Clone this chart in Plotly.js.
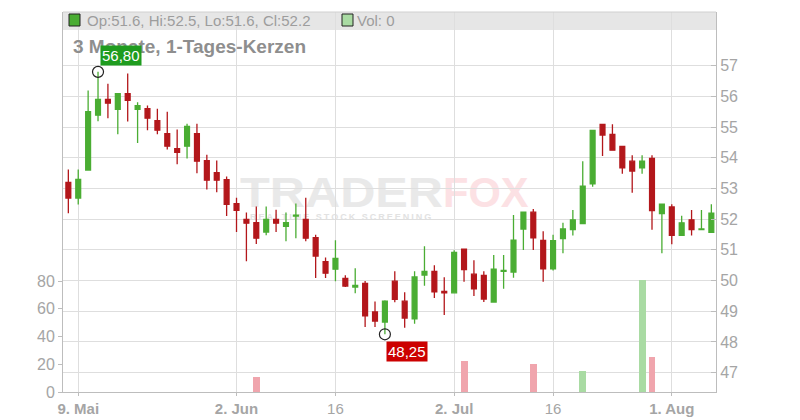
<!DOCTYPE html>
<html><head><meta charset="utf-8">
<script src="https://cdn.plot.ly/plotly-3.0.1.min.js"></script>
<style>
html,body{margin:0;padding:0;background:#fff}
#wrap{position:relative;width:800px;height:420px;overflow:hidden}
#chart{position:absolute;left:0;top:0;width:800px;height:420px}
.wm{position:absolute;font-family:"Liberation Sans",Arial,sans-serif;font-weight:bold;line-height:1;white-space:nowrap;transform-origin:0 0}
</style>
</head><body>
<div id="wrap">
  <div class="wm" style="left:240px;top:172px;font-size:42px;color:#e9e9e9;transform:scaleX(1.16)">TRADER</div>
  <div class="wm" style="left:443px;top:172px;font-size:42px;color:#fce1e4;transform:scaleX(0.99)">FOX</div>
  <div class="wm" style="left:250px;top:213px;font-size:9px;letter-spacing:2px;color:#e2e2e2">REALTIME STOCK SCREENING</div>
  <div id="chart"></div>
</div>
<script>
const dates = ["2025-05-08","2025-05-09","2025-05-12","2025-05-13","2025-05-14","2025-05-15","2025-05-16",
"2025-05-19","2025-05-20","2025-05-21","2025-05-22","2025-05-23","2025-05-26","2025-05-27","2025-05-28","2025-05-29","2025-05-30",
"2025-06-02","2025-06-03","2025-06-04","2025-06-05","2025-06-06","2025-06-09","2025-06-10","2025-06-11","2025-06-12","2025-06-13",
"2025-06-16","2025-06-17","2025-06-18","2025-06-19","2025-06-20","2025-06-23","2025-06-24","2025-06-25","2025-06-26","2025-06-27",
"2025-06-30","2025-07-01","2025-07-02","2025-07-03","2025-07-04","2025-07-07","2025-07-08","2025-07-09","2025-07-10","2025-07-11",
"2025-07-14","2025-07-15","2025-07-16","2025-07-17","2025-07-18","2025-07-21","2025-07-22","2025-07-23","2025-07-24","2025-07-25",
"2025-07-28","2025-07-29","2025-07-30","2025-07-31","2025-08-01","2025-08-04","2025-08-05","2025-08-06","2025-08-07"];

const open = [53.20,52.69,53.60,55.39,55.90,55.58,56.09,55.58,55.60,55.21,54.79,54.30,54.38,54.79,53.91,53.52,53.29,
52.51,51.99,51.89,51.58,51.99,51.77,52.10,51.99,51.40,50.62,50.37,50.07,49.79,49.91,48.98,48.65,49.98,49.33,48.75,50.18,
50.30,49.65,49.60,51.02,50.21,50.17,49.30,50.30,50.28,51.68,52.23,51.31,50.38,51.37,51.66,51.86,53.15,55.09,54.76,54.37,
53.89,53.67,53.98,52.18,52.40,51.47,51.98,51.66,51.57];
const high = [53.62,53.62,56.19,56.80,56.41,56.09,56.75,55.81,55.70,55.60,55.50,54.92,55.11,55.11,54.10,53.91,53.39,
52.70,52.22,52.41,52.41,52.31,52.22,52.51,52.70,51.49,50.75,51.31,50.17,50.40,49.99,49.32,49.36,50.30,49.62,50.30,51.12,
50.50,50.11,50.99,51.02,50.66,50.30,50.83,50.83,52.14,52.23,52.33,51.61,51.49,51.88,52.30,53.89,54.89,55.09,55.09,54.37,
54.08,54.08,54.08,52.49,52.49,52.11,52.30,52.30,52.49];
const low = [52.19,52.48,53.58,55.19,55.29,54.77,55.18,54.48,54.90,54.77,54.27,53.79,53.98,53.50,52.97,52.88,52.10,
51.58,50.63,51.19,51.48,51.58,51.28,51.38,51.28,50.08,50.08,49.98,49.79,49.59,48.49,48.49,48.25,49.29,48.46,48.59,49.83,
49.43,48.88,49.60,49.96,49.50,49.30,49.30,49.73,50.09,51.00,51.00,49.96,50.33,50.89,51.47,51.86,53.06,54.06,54.25,53.48,
52.86,53.48,51.66,50.89,51.18,51.47,51.47,51.64,51.57];
const close = [52.69,53.30,55.50,55.90,55.78,56.09,55.87,55.70,55.29,54.90,54.38,54.18,55.02,53.89,53.27,53.27,52.48,
52.29,51.87,51.38,51.99,51.87,51.89,52.13,51.38,50.80,50.24,50.72,49.82,49.84,48.85,48.68,49.33,49.39,48.78,50.12,50.30,
49.63,49.60,50.92,50.36,49.73,49.40,50.37,50.33,51.32,52.23,51.39,50.38,51.30,51.68,51.98,53.08,54.89,54.74,54.25,53.67,
53.57,53.89,52.28,52.49,51.47,51.88,51.66,51.68,52.20];
const volume = [0,0,0,0,0,0,0,0,0,0,0,0,0,0,0,0,0,0,0,10.5,0,0,0,0,0,0,0,0,0,0,0,0,0,0,0,0,0,0,0,0,
22.5,0,0,0,0,0,0,20.4,0,0,0,0,15.3,0,0,0,0,0,80.7,25.4,0,0,0,0,0,0];

const tickDates = ["2025-05-09","2025-06-02","2025-06-16","2025-07-02","2025-07-16","2025-08-01"];
const tickLabels = ["<b>9. Mai</b>","<b>2. Jun</b>","16","<b>2. Jul</b>","16","<b>1. Aug</b>"];
const priceTicks = [47,48,49,50,51,52,53,54,55,56,57];
const volTicks = [0,20,40,60,80];
const chartTitle = "3 Monate, 1-Tages-Kerzen";

const GREEN = "#4aad33", RED = "#b3171b";
const VOL_G = "#a9dba3", VOL_R = "#f0a5ad";
const GRID = "#dedede", AXIS = "#bdbdbd", TXT = "#a5a5a5";
const FONT = "Liberation Sans, Arial, sans-serif";

const n = dates.length;
const volColors = close.map((c, i) => c >= open[i] ? VOL_G : VOL_R);
let iMax = 0, iMin = 0;
for (let i = 0; i < n; i++) { if (high[i] > high[iMax]) iMax = i; if (low[i] < low[iMin]) iMin = i; }
const fmt = v => v.toFixed(2).replace('.', ',');
const L = n - 1;
const legendText = "Op:" + open[L].toFixed(1) + ", Hi:" + high[L].toFixed(1) + ", Lo:" + low[L].toFixed(1) + ", Cl:" + close[L].toFixed(1);

const plotW = 653, plotH = 380; // pixel size of plot area
const px = x => x / plotW;           // x offset (px from left edge) -> paper
const py = y => 1 - y / plotH;       // y offset (px from top edge) -> paper

const traces = [
  {
    type: "bar", x: dates, y: volume, yaxis: "y2", xaxis: "x",
    marker: {color: volColors, line: {width: 0}}, width: 0.7, hoverinfo: "skip", showlegend: false
  },
  {
    type: "candlestick", x: dates, open: open, high: high, low: low, close: close,
    increasing: {line: {color: GREEN, width: 1.3}, fillcolor: GREEN},
    decreasing: {line: {color: RED, width: 1.3}, fillcolor: RED},
    whiskerwidth: 0, showlegend: false, hoverinfo: "skip"
  },
  {
    type: "scatter", mode: "markers", x: [dates[iMax], dates[iMin]], y: [high[iMax], low[iMin]],
    marker: {symbol: "circle-open", size: 11, color: "#222", line: {width: 1.2}},
    showlegend: false, hoverinfo: "skip"
  }
];

const layout = {
  width: 800, height: 420,
  margin: {l: 63, r: 84, t: 12, b: 28},
  paper_bgcolor: "rgba(0,0,0,0)", plot_bgcolor: "rgba(0,0,0,0)",
  font: {family: FONT, color: TXT, size: 15},
  showlegend: false, bargap: 0,
  xaxis: {
    type: "category", categoryorder: "array", categoryarray: dates,
    range: [-0.54, 65.47], rangeslider: {visible: false},
    tickmode: "array", tickvals: tickDates, ticktext: tickLabels,
    showgrid: true, gridcolor: GRID, gridwidth: 1,
    showline: true, linecolor: AXIS, linewidth: 1,
    ticks: "outside", ticklen: 3, tickcolor: AXIS,
    tickfont: {size: 15, color: TXT, family: FONT}, zeroline: false, fixedrange: true
  },
  yaxis: {
    side: "right", range: [46.37, 58.75],
    tickmode: "array", tickvals: priceTicks,
    showgrid: true, gridcolor: GRID, gridwidth: 1,
    showline: true, linecolor: AXIS, linewidth: 1,
    ticks: "inside", ticklen: 5, tickcolor: AXIS,
    tickfont: {size: 16, color: TXT, family: FONT}, zeroline: false, fixedrange: true
  },
  yaxis2: {
    overlaying: "y", side: "left", range: [0, 273.9],
    tickmode: "array", tickvals: volTicks,
    showgrid: false, showline: true, linecolor: AXIS, linewidth: 1,
    ticks: "outside", ticklen: 4, tickcolor: AXIS,
    tickfont: {size: 16, color: TXT, family: FONT}, zeroline: false, fixedrange: true
  },
  shapes: [
    {type: "rect", xref: "paper", yref: "paper", x0: 0, x1: 1, y0: py(18), y1: 1,
     fillcolor: "#e6e6e6", line: {width: 0}, layer: "below"},
    {type: "line", xref: "paper", yref: "paper", x0: 0, x1: 1, y0: 1, y1: 1,
     line: {color: "#d0d0d0", width: 1}},
    {type: "rect", xref: "paper", yref: "paper", x0: px(6), x1: px(17), y0: py(14), y1: py(2),
     fillcolor: GREEN, line: {color: "#222", width: 1}},
    {type: "rect", xref: "paper", yref: "paper", x0: px(279), x1: px(290), y0: py(14), y1: py(2),
     fillcolor: VOL_G, line: {color: "#222", width: 1}}
  ],
  annotations: [
    {xref: "paper", yref: "paper", x: px(22), y: py(9), xanchor: "left", yanchor: "middle",
     text: legendText, showarrow: false, font: {size: 15, color: "#9d9d9d", family: FONT}},
    {xref: "paper", yref: "paper", x: px(292), y: py(9), xanchor: "left", yanchor: "middle",
     text: "Vol: " + volume[L], showarrow: false, font: {size: 15, color: "#9d9d9d", family: FONT}},
    {xref: "paper", yref: "paper", x: px(8), y: py(35), xanchor: "left", yanchor: "middle",
     text: "<b>" + chartTitle + "</b>", showarrow: false, font: {size: 19, color: "#8e8e8e", family: FONT}},
    {x: dates[iMax], y: high[iMax], xref: "x", yref: "y", xanchor: "left", yanchor: "bottom",
     xshift: 2, yshift: 6, text: fmt(high[iMax]), showarrow: false, bgcolor: "#1f9c1f", borderpad: 1,
     font: {size: 15, color: "#ffffff", family: FONT}},
    {x: dates[iMin], y: low[iMin], xref: "x", yref: "y", xanchor: "left", yanchor: "top",
     xshift: 1, yshift: -7, text: fmt(low[iMin]), showarrow: false, bgcolor: "#cc0000", borderpad: 1,
     font: {size: 15, color: "#ffffff", family: FONT}}
  ]
};

Plotly.newPlot("chart", traces, layout, {displayModeBar: false, staticPlot: true});
</script>
</body></html>
